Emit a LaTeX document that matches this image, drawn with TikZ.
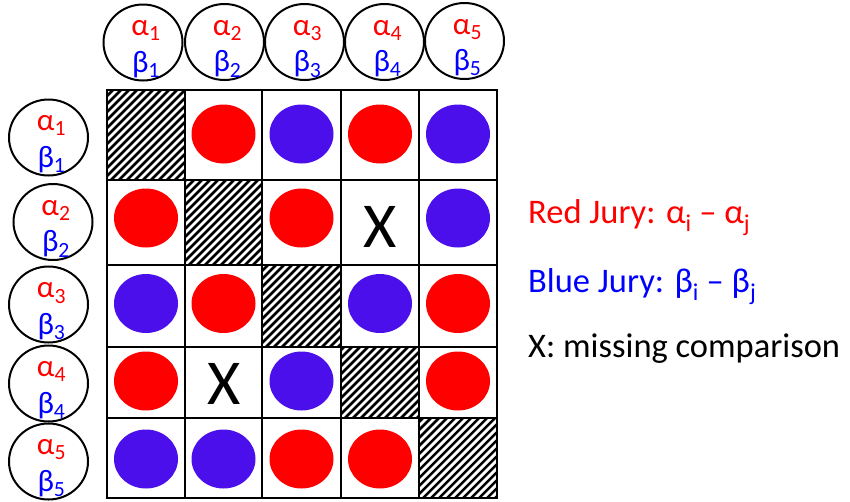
\documentclass[tikz,border=0pt]{standalone}
\usepackage{fontspec}
\setmainfont{Carlito}
\usetikzlibrary{shapes.geometric,calc}
\definecolor{dotred}{RGB}{255,0,0}
\definecolor{dotblue}{RGB}{75,15,235}
\definecolor{txtred}{RGB}{255,0,0}
\definecolor{txtblue}{RGB}{0,0,255}
\newcommand\jurycircle[3]{%
  \node[labcirc] (#1) at (#2) {};
  \node[alab] at ($(#1)+(3,-7)$) {α\textsubscript{#3}};
  \node[blab] at ($(#1)+(3,29.5)$) {β\textsubscript{#3}};
}
\begin{document}
\begin{tikzpicture}[x=1pt,y=-1pt,
  labcirc/.style={draw=black, line width=2pt, ellipse, minimum width=79pt, minimum height=76pt, inner sep=0pt},
  alab/.style={anchor=base, inner sep=0pt, text=txtred, font=\fontsize{31}{36}\selectfont},
  blab/.style={anchor=base, inner sep=0pt, text=txtblue, font=\fontsize{31}{36}\selectfont},
  reddot/.style={ellipse, fill=dotred, minimum width=64pt, minimum height=59pt, inner sep=0pt},
  bluedot/.style={ellipse, fill=dotblue, minimum width=64pt, minimum height=59pt, inner sep=0pt},
  missing/.style={anchor=base, inner sep=0pt, font=\fontsize{64}{70}\selectfont},
  legend/.style={anchor=base west, inner sep=0pt, font=\fontsize{34.5}{40}\selectfont},
  gridline/.style={line width=2.6pt},
  hatchline/.style={line width=2.5pt},
]
\useasboundingbox (0,0) rectangle (850,501);
\fill[white] (0,0) rectangle (850,501);

% hatched diagonal cells
\foreach \hl/\hr/\ht/\hb in {107/185/90/180, 185/262/180/265, 262/341/265/347, 341/419/347/418, 419/497/418/498}{
  \begin{scope}
    \clip (\hl,\ht) rectangle (\hr,\hb);
    \foreach \k in {0,...,24}{
      \draw[hatchline] ({\hl-100+8*\k},\hb) -- ++(100,-100);
    }
  \end{scope}
}

% grid
\draw[gridline] (107,90) rectangle (497,498);
\foreach \gx in {185,262,341,419} \draw[gridline] (\gx,90) -- (\gx,498);
\foreach \gy in {180,265,347,418} \draw[gridline] (107,\gy) -- (497,\gy);

% row 1
\node[reddot]  (c12) at (223.5,134) {};
\node[bluedot] (c13) at (301.5,134) {};
\node[reddot]  (c14) at (380,134) {};
\node[bluedot] (c15) at (458,134) {};
% row 2
\node[reddot]  (c21) at (146,218) {};
\node[reddot]  (c23) at (301.5,218) {};
\node[missing] (c24) at (380,247) {X};
\node[bluedot] (c25) at (458,218) {};
% row 3
\node[bluedot] (c31) at (146,303.5) {};
\node[reddot]  (c32) at (223.5,303.5) {};
\node[bluedot] (c34) at (380,303.5) {};
\node[reddot]  (c35) at (458,303.5) {};
% row 4
\node[reddot]  (c41) at (146,381) {};
\node[missing] (c42) at (224,404) {X};
\node[bluedot] (c43) at (301.5,381) {};
\node[reddot]  (c45) at (458,381) {};
% row 5
\node[bluedot] (c51) at (146,459) {};
\node[bluedot] (c52) at (223.5,459) {};
\node[reddot]  (c53) at (301.5,459) {};
\node[reddot]  (c54) at (380,459) {};

% top circles
\jurycircle{t1}{143,42.5}{1}
\jurycircle{t2}{224.5,42}{2}
\jurycircle{t3}{304.5,42}{3}
\jurycircle{t4}{384.5,42}{4}
\jurycircle{t5}{464.5,41}{5}

% left circles
\jurycircle{l1}{48.5,137.5}{1}
\jurycircle{l2}{53,222}{2}
\jurycircle{l3}{48.5,304.5}{3}
\jurycircle{l4}{48.5,383.5}{4}
\jurycircle{l5}{48.5,461.5}{5}

% legend
\node[legend, text=txtred]  (lr) at (528,223) {Red Jury: α\textsubscript{i} – α\textsubscript{j}};
\node[legend, text=txtblue] (lb) at (528,292) {Blue Jury: β\textsubscript{i} – β\textsubscript{j}};
\node[legend]               (lx) at (528,357) {X: missing comparison};
\end{tikzpicture}
\end{document}
